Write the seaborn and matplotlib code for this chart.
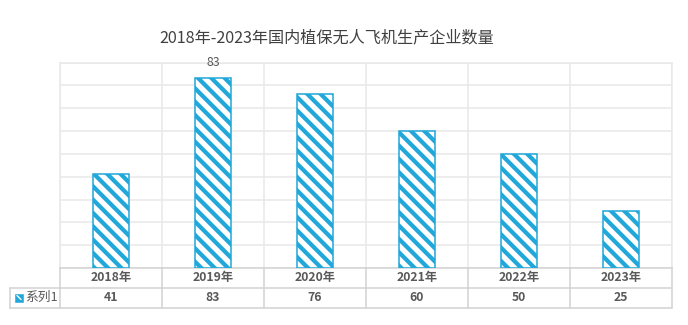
import matplotlib
matplotlib.use("Agg")
import matplotlib.pyplot as plt
import matplotlib.transforms as mtransforms
from matplotlib.lines import Line2D
from matplotlib.patches import Rectangle
import seaborn as sns

# ---------------- data ----------------
title = "2018年-2023年国内植保无人飞机生产企业数量"
categories = ["2018年", "2019年", "2020年", "2021年", "2022年", "2023年"]
values = [41, 83, 76, 60, 50, 25]
series_name = "系列1"
labeled = ["2019年"]          # categories whose value is printed above the bar
y_ticks = list(range(0, 91, 10))

# ---------------- style ----------------
DPI = 80
W, H = 688, 325
BLUE = "#22A7DA"
GRID = "#E8E8E8"
TABLE = "#D3D3D3"
TXT = "#595959"

sns.set_theme(style="white")
plt.rcParams["font.family"] = ["Noto Sans CJK SC", "DejaVu Sans"]
plt.rcParams["hatch.linewidth"] = 3.8

fig = plt.figure(figsize=(W / DPI, H / DPI), dpi=DPI)
left, right, top, bottom = 60, 672, 62.5, 268
ax = fig.add_axes([left / W, 1 - bottom / H, (right - left) / W, (bottom - top) / H])

sns.barplot(x=categories, y=values, color=BLUE, saturation=1, width=0.35, ax=ax, zorder=3)
for p in ax.patches:
    p.set_facecolor("white")
    p.set_edgecolor(BLUE)
    p.set_hatch("\\\\")
    p.set_linewidth(1.4)

ax.set_xlim(-0.5, len(categories) - 0.5)
ax.set_ylim(0, y_ticks[-1])
ax.set_yticks(y_ticks)
ax.set_xticks([i - 0.5 for i in range(len(categories) + 1)])
ax.grid(True, color=GRID, linewidth=1.4, zorder=0)
ax.set_axisbelow(True)
ax.tick_params(length=0, labelbottom=False, labelleft=False)
ax.set_xlabel("")
ax.set_ylabel("")
for name, sp in ax.spines.items():
    sp.set_color(GRID)
    sp.set_linewidth(1.4)
ax.spines["bottom"].set_color(TABLE)

# value labels
for cat, val in zip(categories, values):
    if cat in labeled:
        ax.annotate(str(val), xy=(categories.index(cat), val), xytext=(0, 14),
                    textcoords="offset points", ha="center", va="center",
                    fontsize=11, fontweight="medium", color=TXT)

# title
fig.text(327 / W, 1 - 38 / H, title, ha="center", va="center", fontsize=14.5, color="#404040")

# ---------------- data table below ----------------
bt = mtransforms.blended_transform_factory(ax.transData, fig.transFigure)
ft = fig.transFigure
row1_top, row1_bot, row2_bot = 268, 287.5, 307.5
yf = lambda px: 1 - px / H
n = len(categories)

# vertical lines at category boundaries
for i in range(n + 1):
    fig.add_artist(Line2D([i - 0.5, i - 0.5], [yf(row1_top), yf(row2_bot)],
                          transform=bt, color=TABLE, linewidth=1.4, clip_on=False))
# horizontal lines
for ypx in (row1_bot, row2_bot):
    fig.add_artist(Line2D([10 / W, right / W], [yf(ypx), yf(ypx)],
                          transform=ft, color=TABLE, linewidth=1.4))
fig.add_artist(Line2D([10 / W, 10 / W], [yf(row1_bot), yf(row2_bot)],
                      transform=ft, color=TABLE, linewidth=1.4))

for i, (cat, val) in enumerate(zip(categories, values)):
    fig.text(i, yf((row1_top + row1_bot) / 2), cat, transform=bt, ha="center", va="center",
             fontsize=11, fontweight="bold", color=TXT)
    fig.text(i, yf((row1_bot + row2_bot) / 2), str(val), transform=bt, ha="center", va="center",
             fontsize=11, fontweight="bold", color=TXT)

# legend key + series name
ymid = (row1_bot + row2_bot) / 2
key = Rectangle((15 / W, yf(ymid + 4)), 8 / W, 8 / H, transform=ft,
                facecolor=BLUE, edgecolor=BLUE, linewidth=0.5)
fig.add_artist(key)
fig.add_artist(Line2D([17 / W, 21 / W], [yf(ymid - 2), yf(ymid + 2)], transform=ft,
                      color="white", linewidth=1.2))
fig.text(25 / W, yf(ymid), series_name, transform=ft, ha="left", va="center",
         fontsize=11.5, color=TXT)

fig.savefig("out.png", dpi=DPI)
